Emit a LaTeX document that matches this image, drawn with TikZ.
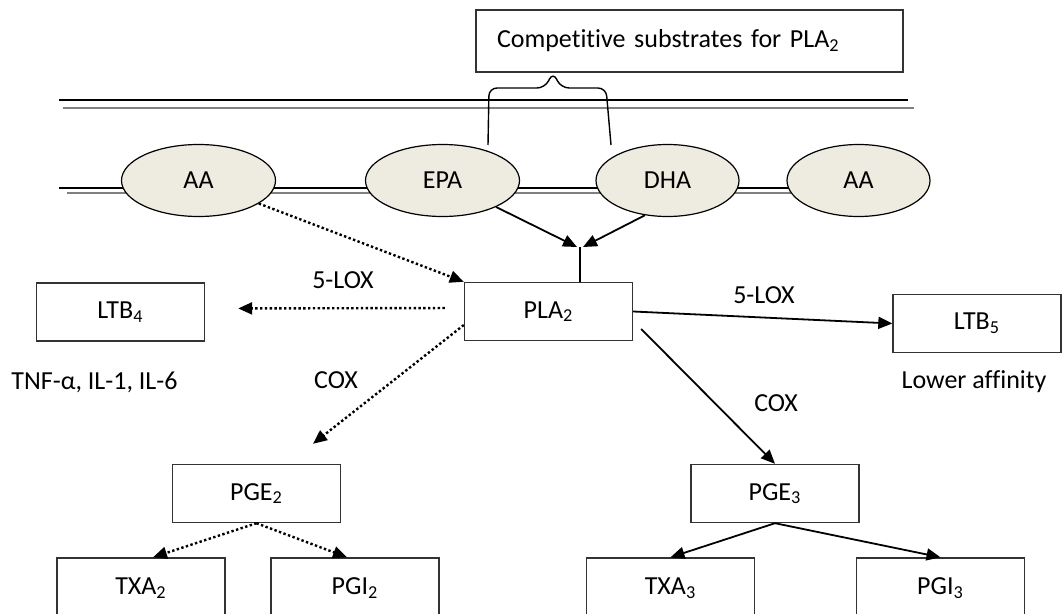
\documentclass[tikz,border=0pt]{standalone}
\usepackage{fontspec}
\setmainfont{Carlito}[Ligatures=NoCommon]
\usetikzlibrary{arrows.meta,shapes.geometric}
\definecolor{fattyfill}{HTML}{EEECE1}
\colorlet{membgray}{black!50}
\colorlet{boxline}{black!80}

\begin{document}
\begin{tikzpicture}[x=0.5pt,y=-0.5pt,
    font=\fontsize{13}{15}\selectfont,
    box/.style={draw=boxline, line width=0.7pt, minimum width=84pt, minimum height=29pt, inner sep=0pt},
    fatty/.style={ellipse, draw, fill=fattyfill, line width=0.6pt, minimum width=77pt, minimum height=36pt, inner sep=0pt},
    flow/.style={-{Triangle[length=7pt,width=6pt]}, line width=0.9pt},
    dotflow/.style={-{Triangle[length=7pt,width=6pt]}, line width=1.2pt, dash pattern=on 1.2pt off 1.2pt}]
    \useasboundingbox (0,0) rectangle (1063,614);
    \clip (0,0) rectangle (1063,614);
    % membrane
    \draw[line width=0.7pt] (59,100) -- (908,100);
    \draw[membgray, line width=1.2pt] (63,108) -- (914,108);
    \draw[line width=0.7pt] (59,188) -- (858,188);
    \draw[membgray, line width=1.2pt] (67,193) -- (858,193);
    % fatty acids in the membrane
    \node[fatty] (aaleft) at (198.5,180.5) {AA};
    \node[fatty] (epa) at (442.5,180.5) {EPA};
    \node[fatty, minimum width=71.5pt] (dha) at (667.5,180.5) {DHA};
    \node[fatty, minimum width=71.5pt] (aaright) at (858.5,180.5) {AA};
    % competitive substrates
    \node[box, text width=192.5pt, inner xsep=10.5pt, minimum height=31pt, align=left] (comp) at (689.5,41) {Competitive substrates for PLA\textsubscript{2}};
    \draw[line width=0.7pt, rounded corners=4pt] (488,145) -- (489,88) -- (545,88) -- (553,72) -- (561,88) -- (606,88) -- (611,145);
    % enzyme and products
    \node[box] (pla) at (548.5,311.5) {PLA\textsubscript{2}};
    \node[box] (ltbfour) at (120.5,312) {LTB\textsubscript{4}};
    \node[box] (ltbfive) at (977,323.5) {LTB\textsubscript{5}};
    \node[box] (pgetwo) at (256.5,493.5) {PGE\textsubscript{2}};
    \node[box] (pgethree) at (775,493.5) {PGE\textsubscript{3}};
    \foreach \n/\x/\t in {txatwo/141/TXA\textsubscript{2}, pgitwo/355/PGI\textsubscript{2}, txathree/670.5/TXA\textsubscript{3}, pgithree/940.5/PGI\textsubscript{3}}{
        \node[box, minimum height=30pt] (\n) at (\x,588) {\t};
    }
    % labels
    \node (loxleft) at (343,280) {5-LOX};
    \node (coxleft) at (336,380) {COX};
    \node (loxright) at (764,295) {5-LOX};
    \node (coxright) at (776,403) {COX};
    \node (cyto) at (94.5,382) {TNF-α, IL-1, IL-6};
    \node (affin) at (974,382) {Lower affinity};
    % arrows
    \coordinate (merge) at (580,247);
    \draw[flow] (epa) -- ([xshift=-1.5pt]merge);
    \draw[flow] (dha.237) -- ([xshift=1.5pt]merge);
    \draw[line width=0.9pt] (merge) -- (merge |- pla.north);
    \draw[dotflow] (aaleft) -- (pla.north west);
    \draw[dotflow, shorten <=9.5pt, shorten >=16.5pt] ([yshift=1.75pt]pla.west) -- ([yshift=1.75pt]ltbfour.east);
    \draw[dotflow] ([yshift=-6.75pt]pla.west) -- ([xshift=28.25pt,yshift=10pt]pgetwo.north);
    \draw[flow] (pla.east) -- (ltbfive.west);
    \draw[flow] ([xshift=4pt,yshift=-8.75pt]pla.east) -- (pgethree.north);
    \draw[dotflow] (pgetwo.south) -- ([xshift=6pt]txatwo.north);
    \draw[dotflow] (pgetwo.south) -- ([xshift=-4pt]pgitwo.north);
    \draw[flow] (pgethree.south) -- (txathree.north);
    \draw[flow] (pgethree.south) -- (pgithree.north);
\end{tikzpicture}
\end{document}
